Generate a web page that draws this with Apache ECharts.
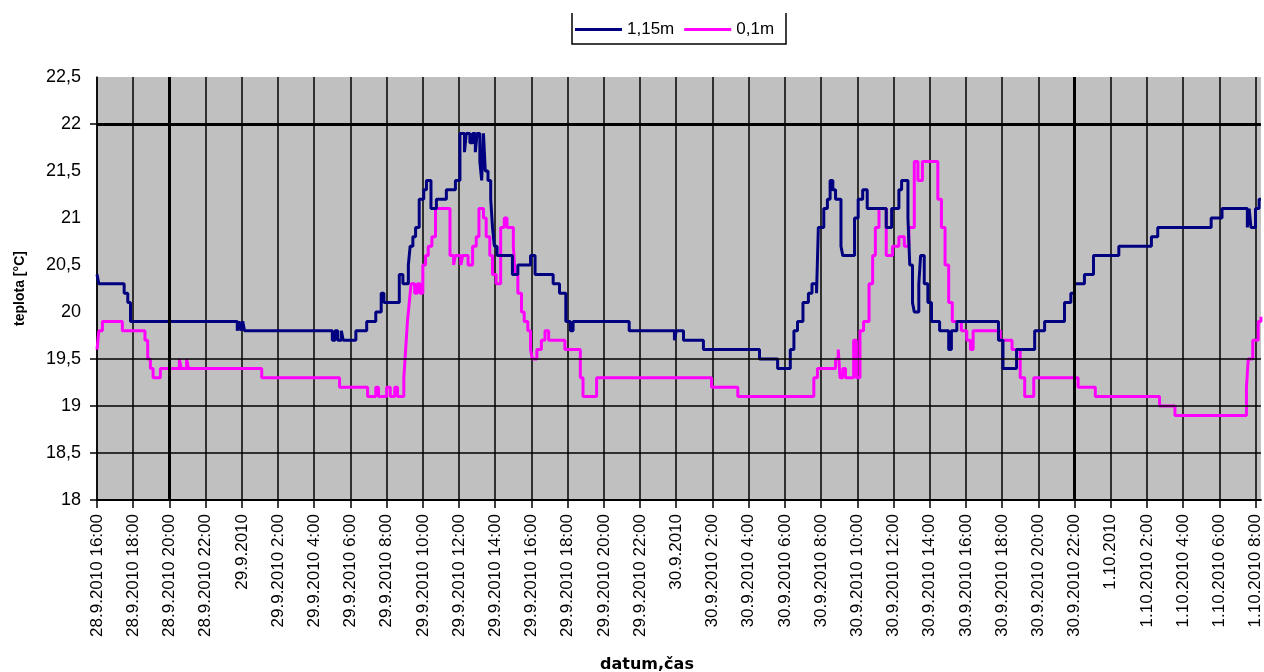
<!DOCTYPE html>
<html>
<head>
<meta charset="utf-8">
<script src="https://cdn.jsdelivr.net/npm/echarts@6/dist/echarts.min.js"></script>
<style>
  html, body { margin: 0; padding: 0; background: #ffffff; }
  #chart { width: 1264px; height: 672px; }
</style>
</head>
<body>
<div id="chart"></div>
<script>
// Time axis: hours since 28.9.2010 16:00, one tick every 2 hours
const timeLabels = [
  '28.9.2010 16:00', '28.9.2010 18:00', '28.9.2010 20:00', '28.9.2010 22:00',
  '29.9.2010', '29.9.2010 2:00', '29.9.2010 4:00', '29.9.2010 6:00',
  '29.9.2010 8:00', '29.9.2010 10:00', '29.9.2010 12:00', '29.9.2010 14:00',
  '29.9.2010 16:00', '29.9.2010 18:00', '29.9.2010 20:00', '29.9.2010 22:00',
  '30.9.2010', '30.9.2010 2:00', '30.9.2010 4:00', '30.9.2010 6:00',
  '30.9.2010 8:00', '30.9.2010 10:00', '30.9.2010 12:00', '30.9.2010 14:00',
  '30.9.2010 16:00', '30.9.2010 18:00', '30.9.2010 20:00', '30.9.2010 22:00',
  '1.10.2010', '1.10.2010 2:00', '1.10.2010 4:00', '1.10.2010 6:00',
  '1.10.2010 8:00'
];

const seriesNames = ['1,15m', '0,1m'];

// Temperature at depth 1,15 m: [hours, °C], each value held until the next reading
const temp115 = [
  [0, 20.4], [0.1, 20.3], [1.5, 20.2], [1.7, 20.1], [1.85, 19.9],
  [7.75, 19.8], [7.85, 19.9], [7.95, 19.8], [8.05, 19.9], [8.15, 19.8],
  [13.0, 19.7], [13.15, 19.8], [13.3, 19.7], [13.5, 19.8], [13.6, 19.7],
  [14.3, 19.8], [14.9, 19.9], [15.4, 20.0], [15.7, 20.2], [15.85, 20.1],
  [16.7, 20.4], [16.9, 20.3], [17.2, 20.5], [17.3, 20.7], [17.45, 20.8],
  [17.6, 20.9], [17.8, 21.2], [18.05, 21.3], [18.2, 21.4], [18.45, 21.1],
  [18.75, 21.2], [19.3, 21.3], [19.8, 21.4], [20.05, 21.9], [20.3, 21.7],
  [20.4, 21.9], [20.6, 21.8], [20.75, 21.9], [20.9, 21.7], [21.0, 21.9],
  [21.15, 21.6], [21.25, 21.4], [21.35, 21.9], [21.45, 21.5], [21.6, 21.4],
  [21.75, 21.2], [21.85, 20.9], [21.95, 20.7], [22.1, 20.6], [22.95, 20.4],
  [23.25, 20.5], [23.95, 20.6], [24.2, 20.4], [25.2, 20.3], [25.55, 20.2],
  [25.9, 19.9], [26.15, 19.8], [26.3, 19.9], [29.4, 19.8], [31.9, 19.7],
  [32.0, 19.8], [32.4, 19.7], [33.5, 19.6], [36.6, 19.5], [37.6, 19.4],
  [38.3, 19.6], [38.5, 19.8], [38.7, 19.9], [39.0, 20.1], [39.3, 20.2],
  [39.5, 20.3], [39.75, 20.2], [39.85, 20.9], [40.15, 21.1], [40.35, 21.2],
  [40.5, 21.4], [40.65, 21.3], [40.8, 21.2], [41.1, 20.7], [41.2, 20.6],
  [41.85, 21.0], [42.05, 21.2], [42.3, 21.3], [42.55, 21.1], [43.6, 20.9],
  [43.9, 21.1], [44.3, 21.3], [44.45, 21.4], [44.8, 21.0], [44.9, 20.5],
  [45.05, 20.1], [45.15, 20.0], [45.4, 20.3], [45.5, 20.6], [45.7, 20.3],
  [45.9, 20.1], [46.1, 19.9], [46.55, 19.8], [47.05, 19.6], [47.2, 19.8],
  [47.5, 19.9], [49.8, 19.7], [50.05, 19.4], [50.8, 19.6], [51.8, 19.8],
  [52.35, 19.9], [53.45, 20.1], [53.8, 20.2], [54.0, 20.3], [54.55, 20.4],
  [55.05, 20.6], [56.45, 20.7], [58.25, 20.8], [58.6, 20.9], [61.55, 21.0],
  [62.15, 21.1], [63.55, 20.9], [63.65, 21.1], [63.75, 20.9], [64.0, 21.1],
  [64.2, 21.2], [64.3, 21.2]
];

// Temperature at depth 0,1 m: [hours, °C]
const temp01 = [
  [0, 19.6], [0.1, 19.8], [0.3, 19.9], [1.4, 19.8], [2.65, 19.7],
  [2.8, 19.5], [2.95, 19.4], [3.1, 19.3], [3.5, 19.4], [4.55, 19.5],
  [4.65, 19.4], [4.95, 19.5], [5.05, 19.4], [9.1, 19.3], [13.4, 19.2],
  [14.95, 19.1], [15.4, 19.2], [15.55, 19.1], [16.0, 19.2], [16.2, 19.1],
  [16.45, 19.2], [16.6, 19.1], [16.95, 19.3], [17.05, 19.6], [17.15, 19.9],
  [17.25, 20.1], [17.35, 20.3], [17.55, 20.2], [17.7, 20.3], [17.85, 20.2],
  [18.0, 20.5], [18.15, 20.6], [18.3, 20.7], [18.5, 20.8], [18.7, 21.1],
  [19.5, 20.6], [19.7, 20.5], [19.8, 20.6], [20.1, 20.5], [20.2, 20.6],
  [20.5, 20.5], [20.75, 20.7], [20.95, 20.8], [21.1, 21.1], [21.35, 21.0],
  [21.5, 20.8], [21.7, 20.6], [21.85, 20.4], [22.05, 20.3], [22.3, 20.9],
  [22.5, 21.0], [22.65, 20.9], [23.0, 20.7], [23.1, 20.4], [23.25, 20.2],
  [23.45, 20.0], [23.6, 19.9], [23.8, 19.8], [23.95, 19.6], [24.05, 19.5],
  [24.3, 19.6], [24.55, 19.7], [24.75, 19.8], [24.95, 19.7], [25.85, 19.6],
  [26.7, 19.3], [26.85, 19.1], [27.6, 19.3], [33.95, 19.2], [35.4, 19.1],
  [39.6, 19.3], [39.8, 19.4], [40.8, 19.5], [40.95, 19.6], [41.05, 19.3],
  [41.2, 19.4], [41.35, 19.3], [41.8, 19.7], [41.95, 19.3], [42.15, 19.8],
  [42.35, 19.9], [42.65, 20.3], [42.85, 20.6], [43.0, 20.9], [43.2, 21.1],
  [43.6, 20.6], [43.95, 20.7], [44.3, 20.8], [44.6, 20.7], [44.85, 20.9],
  [45.15, 21.6], [45.35, 21.4], [45.6, 21.6], [46.45, 21.2], [46.65, 20.9],
  [46.85, 20.5], [47.05, 20.1], [47.25, 19.9], [47.75, 19.8], [48.05, 19.7],
  [48.25, 19.6], [48.4, 19.8], [49.9, 19.7], [50.55, 19.6], [51.0, 19.3],
  [51.25, 19.1], [51.75, 19.3], [54.2, 19.2], [55.15, 19.1], [58.7, 19.0],
  [59.55, 18.9], [63.5, 19.2], [63.6, 19.5], [63.85, 19.7], [64.15, 19.9],
  [64.3, 19.95]
];

// Reference lines drawn heavier than the regular grid
const heavyTimeLines = [4, 54];
const heavyTempLines = [22];
const tempGridLines = [18.5, 19, 19.5];
const tempTickValues = [18, 18.5, 19, 19.5, 22];

const chart = echarts.init(document.getElementById('chart'));

const labelFont = 'Liberation Sans, Arial, sans-serif';

chart.setOption({
  animation: false,
  backgroundColor: '#ffffff',
  grid: {
    left: 97, right: 0, top: 77, bottom: 172,
    show: true, backgroundColor: '#c0c0c0', borderWidth: 0
  },
  legend: {
    data: seriesNames,
    left: 575, top: 21, padding: 0,
    icon: 'rect', itemWidth: 47, itemHeight: 3, itemGap: 10,
    textStyle: { fontFamily: labelFont, fontSize: 17, color: '#000' }
  },
  xAxis: {
    type: 'value',
    min: 0, max: 64.3, interval: 2,
    axisLine: { show: true, onZero: false, lineStyle: { color: '#000', width: 2 } },
    axisTick: { show: true, length: 8, lineStyle: { color: '#000', width: 1.5 } },
    splitLine: { show: true, showMaxLine: false, lineStyle: { color: '#000', width: 1.5 } },
    axisLabel: {
      rotate: 90, margin: 14, showMaxLabel: false,
      fontFamily: labelFont, fontSize: 17, color: '#000',
      formatter: function (v) {
        if (Math.abs(v / 2 - Math.round(v / 2)) > 1e-6) return '';
        return timeLabels[Math.round(v / 2)] || '';
      }
    }
  },
  yAxis: {
    type: 'value',
    min: 18, max: 22.5, interval: 0.5,
    name: 'teplota [°C]', nameLocation: 'middle', nameRotate: 90, nameGap: 70,
    nameTextStyle: { fontFamily: labelFont, fontSize: 14, fontWeight: 'bold', color: '#000' },
    axisLine: { show: true, lineStyle: { color: '#000', width: 1.5 } },
    axisTick: { show: true, length: 7, customValues: tempTickValues, lineStyle: { color: '#000', width: 1.5 } },
    splitLine: { show: false },
    axisLabel: {
      margin: 16, fontFamily: labelFont, fontSize: 18, color: '#000',
      formatter: function (v) { return String(v).replace('.', ','); }
    }
  },
  series: [
    {
      name: 'grid',
      type: 'line',
      data: [],
      z: 1,
      silent: true,
      markLine: {
        silent: true, symbol: 'none', label: { show: false },
        animation: false,
        data: [
          ...tempGridLines.map(v => ({ yAxis: v, lineStyle: { color: '#000', width: 1.5, type: 'solid' } })),
          ...heavyTempLines.map(v => ({ yAxis: v, lineStyle: { color: '#000', width: 3, type: 'solid' } })),
          ...heavyTimeLines.map(v => ({ xAxis: v, lineStyle: { color: '#000', width: 3, type: 'solid' } }))
        ]
      }
    },
    {
      name: seriesNames[0],
      type: 'line',
      step: 'end',
      data: temp115,
      showSymbol: false,
      z: 3,
      lineStyle: { color: '#000080', width: 3 },
      itemStyle: { color: '#000080' }
    },
    {
      name: seriesNames[1],
      type: 'line',
      step: 'end',
      data: temp01,
      showSymbol: false,
      z: 2,
      lineStyle: { color: '#ff00ff', width: 3 },
      itemStyle: { color: '#ff00ff' }
    }
  ],
  graphic: [
    {
      type: 'polyline',
      shape: { points: [[572, 13], [572, 44], [786, 44], [786, 13]] },
      style: { stroke: '#000', lineWidth: 1.5, fill: null }
    },
    {
      type: 'text',
      x: 647, y: 665,
      style: {
        text: 'datum,čas',
        font: 'bold 16px "DejaVu Sans", sans-serif',
        fill: '#000',
        align: 'center', verticalAlign: 'middle'
      }
    }
  ]
});
</script>
</body>
</html>
